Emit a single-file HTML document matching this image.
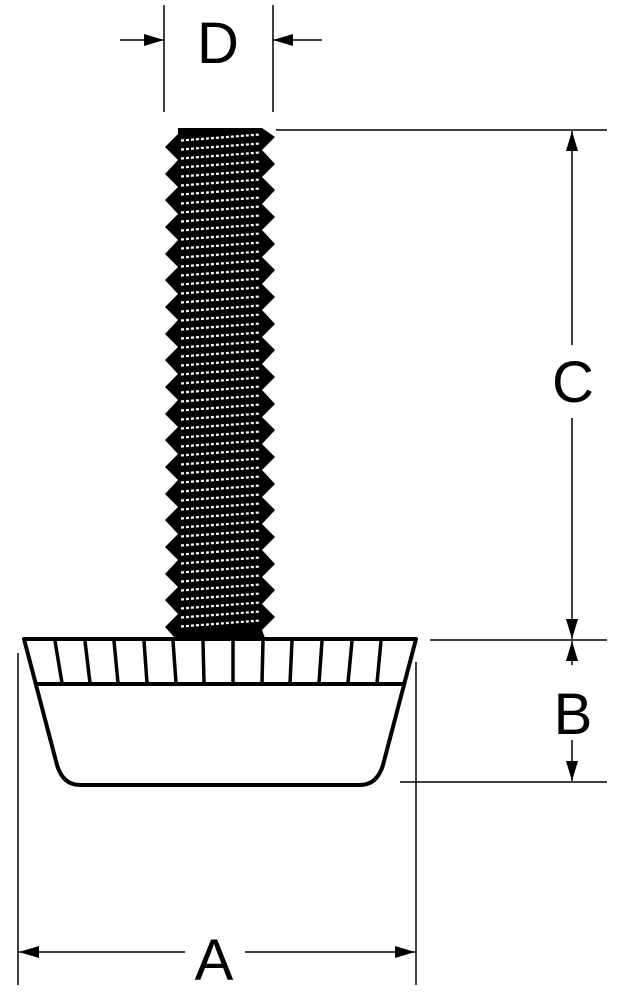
<!DOCTYPE html>
<html><head><style>
html,body{margin:0;padding:0;background:#fff;}
svg{display:block;}
text{font-family:"Liberation Sans",sans-serif;fill:#000;}
</style></head><body>
<svg width="619" height="1000" viewBox="0 0 619 1000" xmlns="http://www.w3.org/2000/svg">
<defs>
<marker id="ar" viewBox="0 0 20 12" refX="20" refY="6" markerWidth="20" markerHeight="12" markerUnits="userSpaceOnUse" orient="auto">
<path d="M0,0 L20,6 L0,12 z" fill="#000"/>
</marker>
<pattern id="thr" x="181" y="133" width="79" height="9" patternUnits="userSpaceOnUse">
<line x1="0" y1="7.5" x2="79" y2="1.5" stroke="#fff" stroke-width="2.2" stroke-dasharray="3 2"/>
</pattern>
</defs>
<polygon fill="#000" points="178,128 262,128 275,137 262,150 275,164 262,177 275,190 262,204 275,217 262,230 275,244 262,257 275,270 262,284 275,297 262,310 275,324 262,337 275,350 262,364 275,377 262,390 275,404 262,417 275,430 262,444 275,457 262,470 275,484 262,497 275,510 262,524 275,537 262,550 275,564 262,577 275,590 262,604 275,617 262,630 265,638 175,638 165,627 178,614 165,600 178,587 165,574 178,560 165,547 178,534 165,520 178,507 165,494 178,480 165,467 178,454 165,440 178,427 165,414 178,400 165,387 178,374 165,360 178,347 165,334 178,320 165,307 178,294 165,280 178,267 165,254 178,240 165,227 178,214 165,200 178,187 165,174 178,160 165,147 178,134"/>
<rect x="181" y="133" width="79" height="495" fill="url(#thr)"/>
<g stroke="#000" stroke-width="4" fill="#fff" stroke-linejoin="round">
<path d="M24,639 L416,639 L383,765 Q377,785 360,785 L80,785 Q63,785 57,765 Z"/>
<line x1="37" y1="684" x2="404" y2="684"/>
</g>
<g stroke="#000" stroke-width="3.5">
<line x1="55" y1="641" x2="62" y2="683"/>
<line x1="85" y1="641" x2="90" y2="683"/>
<line x1="114" y1="641" x2="118" y2="683"/>
<line x1="144" y1="641" x2="147" y2="683"/>
<line x1="173" y1="641" x2="176" y2="683"/>
<line x1="203" y1="641" x2="204" y2="683"/>
<line x1="233" y1="641" x2="233" y2="683"/>
<line x1="263" y1="641" x2="262" y2="683"/>
<line x1="292" y1="641" x2="290" y2="683"/>
<line x1="322" y1="641" x2="319" y2="683"/>
<line x1="352" y1="641" x2="348" y2="683"/>
<line x1="381" y1="641" x2="377" y2="683"/>
</g>
<g stroke="#000" stroke-width="1.5" fill="none">
<line x1="164" y1="5" x2="164" y2="112"/>
<line x1="273" y1="5" x2="273" y2="112"/>
<line x1="120" y1="40" x2="164" y2="40" marker-end="url(#ar)"/>
<line x1="322" y1="40" x2="273" y2="40" marker-end="url(#ar)"/>
<line x1="276" y1="130" x2="607" y2="130"/>
<line x1="572" y1="345" x2="572" y2="131" marker-end="url(#ar)"/>
<line x1="572" y1="418" x2="572" y2="639" marker-end="url(#ar)"/>
<line x1="430" y1="640" x2="607" y2="640"/>
<line x1="572" y1="665" x2="572" y2="641" marker-end="url(#ar)"/>
<line x1="572" y1="740" x2="572" y2="781" marker-end="url(#ar)"/>
<line x1="400" y1="782" x2="607" y2="782"/>
<line x1="18" y1="653" x2="18" y2="985"/>
<line x1="416" y1="662" x2="416" y2="985"/>
<line x1="185" y1="952" x2="19" y2="952" marker-end="url(#ar)"/>
<line x1="245" y1="952" x2="415" y2="952" marker-end="url(#ar)"/>
</g>
<text x="218" y="63" font-size="58" text-anchor="middle">D</text>
<text x="573" y="402" font-size="58" text-anchor="middle">C</text>
<text x="573" y="734" font-size="58" text-anchor="middle">B</text>
<text x="214" y="980" font-size="58" text-anchor="middle">A</text>
</svg>
</body></html>
